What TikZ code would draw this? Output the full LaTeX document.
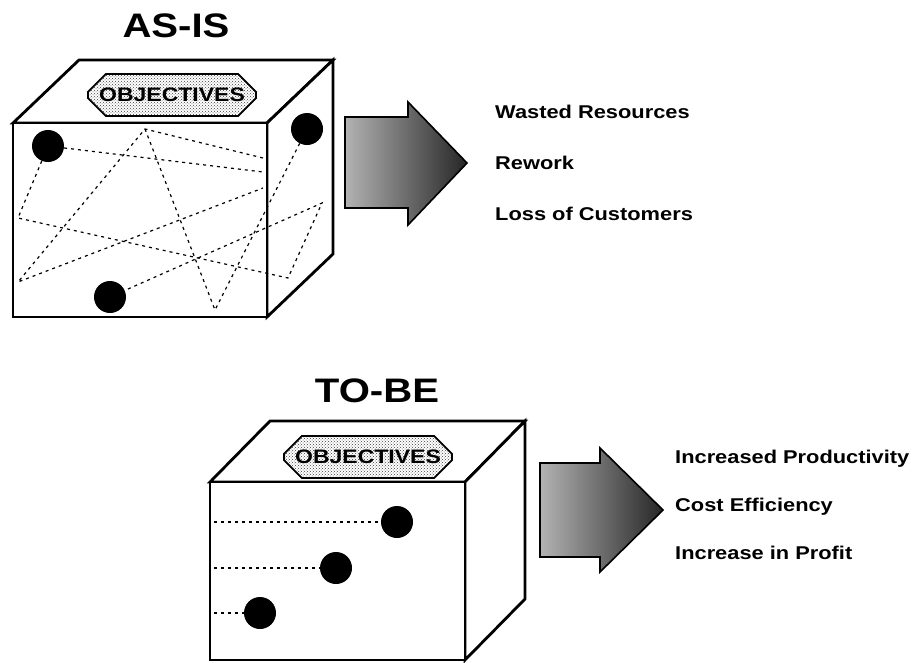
\documentclass[tikz,border=0pt]{standalone}
\usepackage{fontspec}
\setmainfont{Liberation Sans}[FakeStretch=1.18]
\usetikzlibrary{shapes.misc, patterns, positioning}

\begin{document}
\begin{tikzpicture}[x=1pt, y=-1pt,
		every node/.style={font=\bfseries},
		titletext/.style={font=\fontsize{34}{40}\selectfont\bfseries},
		itemtext/.style={anchor=base west, inner sep=0pt, font=\fontsize{18.5}{22}\selectfont\bfseries},
		cubeline/.style={draw=black, fill=white, line width=2.8pt, line join=miter},
		goalbox/.style={chamfered rectangle, chamfered rectangle xsep=11pt, chamfered rectangle ysep=11pt, draw=black, line width=1.8pt, pattern=crosshatch dots, pattern color=black!75, minimum width=168pt, minimum height=42pt, inner sep=0pt, font=\fontsize{19.5}{21}\selectfont\bfseries},
		blob/.style={circle, fill=black, minimum size=32pt, inner sep=0pt},
		netline/.style={dash pattern=on 3pt off 4pt, line width=1.2pt},
		fatarrow/.style={draw=black, line width=1.6pt, line join=miter, left color=gray!60, right color=black!85}
	]
	\useasboundingbox (0,0) rectangle (919,662);
	\clip (0,0) rectangle (919,662);

	% AS-IS cube
	\node[titletext] (asis) at (176,26) {AS-IS};
	\draw[cubeline] (13,123) -- (79,60) -- (333,60) -- (267,123) -- cycle;
	\draw[cubeline] (267,123) -- (333,60) -- (333,254) -- (267,317) -- cycle;
	\draw[cubeline] (13,123) rectangle (267,317);
	\node[goalbox] (goalasis) at (172,95) {OBJECTIVES};

	% Tangled links between the objectives
	\coordinate (fr1) at (263,172);
	\coordinate (fr2) at (263,158);
	\coordinate (fr3) at (263,188);
	\coordinate (peak) at (145,129);
	\coordinate (lowleft) at (18,282);
	\coordinate (midleft) at (18,218);
	\coordinate (bottom) at (215,310);
	\coordinate (sidelow) at (288,278);
	\coordinate (sideup) at (322,203);

	\node[blob] (p1) at (48,146) {};
	\node[blob] (p2) at (307,129) {};
	\node[blob] (p3) at (110,297) {};

	\draw[netline] (p1) -- (fr1);
	\draw[netline] (fr2) -- (peak) -- (lowleft) -- (fr3);
	\draw[netline] (peak) -- (bottom) -- (p2);
	\draw[netline] (p1) -- (midleft) -- (sidelow) -- (sideup) -- (p3);

	% AS-IS outcome
	\shade[fatarrow] (345,117) -- (408,117) -- (408,102) -- (467,163)
		-- (408,225) -- (408,208) -- (345,208) -- cycle;
	\node[itemtext] (waste) at (495,118) {Wasted Resources};
	\node[itemtext] (rework) at (495,169) {Rework};
	\node[itemtext] (loss) at (495,220) {Loss of Customers};

	% TO-BE cube
	\node[titletext] (tobe) at (377,391) {TO-BE};
	\draw[cubeline] (210,482) -- (270,421) -- (525,421) -- (465,482) -- cycle;
	\draw[cubeline] (465,482) -- (525,421) -- (525,599) -- (465,660) -- cycle;
	\draw[cubeline] (210,482) rectangle (465,660);
	\node[goalbox] (goaltobe) at (368,457) {OBJECTIVES};

	% Aligned objectives
	\foreach \n/\x/\y in {1/397/522, 2/336/568, 3/260/613} {
		\node[blob] (q\n) at (\x,\y) {};
		\coordinate (edge\n) at (214,\y);
		\draw[netline] (edge\n) -- (q\n);
	}

	% TO-BE outcome
	\shade[fatarrow] (540,463) -- (600,463) -- (600,448) -- (663,510)
		-- (600,572) -- (600,557) -- (540,557) -- cycle;
	\node[itemtext] (prod) at (675,463) {Increased Productivity};
	\node[itemtext] (cost) at (675,511) {Cost Efficiency};
	\node[itemtext] (profit) at (675,559) {Increase in Profit};
\end{tikzpicture}
\end{document}
